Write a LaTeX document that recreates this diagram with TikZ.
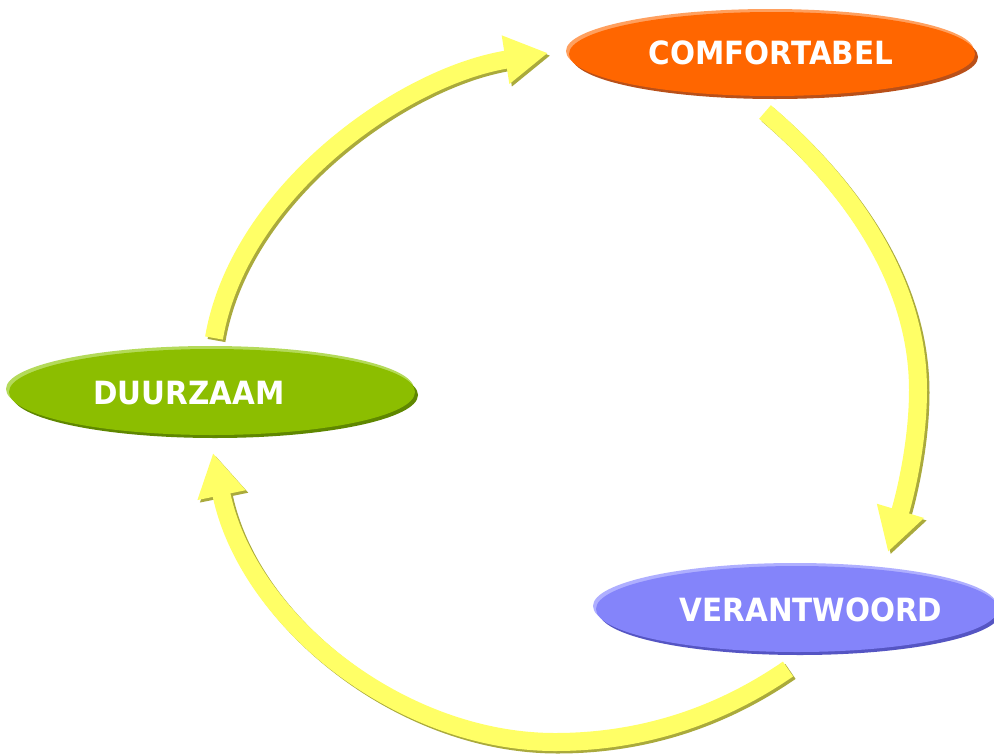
\documentclass[tikz,border=0pt]{standalone}
\usepackage{fontspec}
\setmainfont{DejaVu Sans}
\usepackage{graphicx}
\usepackage{pdfrender}
\usetikzlibrary{arrows.meta,shapes.geometric}
\definecolor{arrowyel}{RGB}{255,255,102}
\definecolor{arrowshd}{RGB}{170,170,60}
\definecolor{orangefill}{RGB}{255,102,0}
\definecolor{orangelite}{RGB}{255,160,95}
\definecolor{orangedark}{RGB}{185,80,25}
\definecolor{greenfill}{RGB}{140,190,0}
\definecolor{greenlite}{RGB}{180,218,90}
\definecolor{greendark}{RGB}{95,135,0}
\definecolor{purplefill}{RGB}{132,132,250}
\definecolor{purplelite}{RGB}{175,175,255}
\definecolor{purpledark}{RGB}{85,85,195}
\definecolor{txtedge}{RGB}{60,60,60}
\newcommand{\edgetxt}[1]{\scalebox{0.92}[1]{\textpdfrender{TextRenderingMode=FillStroke,LineWidth=0.7,StrokeColor=txtedge,FillColor=white}{#1}}}
\begin{document}
\begin{tikzpicture}[x=1pt,y=-1pt,
  pill/.style={ellipse, minimum width=406pt, minimum height=84pt, inner sep=0pt},
  lbl/.style={text=white, font=\bfseries\fontsize{32}{36}\selectfont, inner sep=0pt},
  cyc/.style={line width=18pt, -{Triangle[length=43pt,width=46pt]}}]
\clip (0,0) rectangle (994,753);
\fill[white] (0,0) rectangle (994,753);

% ---- ellipses ----
\fill[orangelite] (770,51) ellipse [x radius=204pt, y radius=42pt];
\fill[orangedark] (775,57) ellipse [x radius=203pt, y radius=42pt];
\node[pill, fill=orangefill] (comf) at (772,54) {};

\fill[greenlite] (210,389) ellipse [x radius=204pt, y radius=43pt];
\fill[greendark] (215,395) ellipse [x radius=203pt, y radius=43pt];
\node[pill, minimum height=86pt, fill=greenfill] (duur) at (212,392) {};

\fill[purplelite] (795,606) ellipse [x radius=202pt, y radius=43pt];
\fill[purpledark] (800,612) ellipse [x radius=201pt, y radius=43pt];
\node[pill, minimum width=402pt, minimum height=86pt, fill=purplefill] (vera) at (797,609) {};

% ---- labels ----
\node[lbl] (comft) at (771,53) {\edgetxt{COMFORTABEL}};
\node[lbl] (duurt) at (189,393) {\edgetxt{DUURZAAM}};
\node[lbl] (verat) at (811,610) {\edgetxt{VERANTWOORD}};

% ---- arrow end points ----
\coordinate (a1s) at (214,338);
\coordinate (a1e) at (548,53);
\coordinate (a2s) at (765,112);
\coordinate (a2m) at (918,390);
\coordinate (a2e) at (888,552);
\coordinate (a3s) at (788,669);
\coordinate (a3m) at (555,742);
\coordinate (a3e) at (213,453);

% shadows
\begin{scope}[transform canvas={shift={(2.5,2.5)}}]
  \draw[cyc, arrowshd] (a1s) .. controls +(25,-146) and +(-146,23) .. (a1e);
  \draw[cyc, arrowshd] (a2s) .. controls +(84,72) and +(0,-110) .. (a2m)
                            .. controls +(0,55) and +(16,-53) .. (a2e);
  \draw[cyc, arrowshd] (a3s) .. controls +(-74,51) and +(80,0) .. (a3m)
                            .. controls +(-155,0) and +(34,167) .. (a3e);
\end{scope}
% arrows
\draw[cyc, arrowyel] (a1s) .. controls +(25,-146) and +(-146,23) .. (a1e);
\draw[cyc, arrowyel] (a2s) .. controls +(84,72) and +(0,-110) .. (a2m)
                          .. controls +(0,55) and +(16,-53) .. (a2e);
\draw[cyc, arrowyel] (a3s) .. controls +(-74,51) and +(80,0) .. (a3m)
                          .. controls +(-155,0) and +(34,167) .. (a3e);
\end{tikzpicture}
\end{document}
